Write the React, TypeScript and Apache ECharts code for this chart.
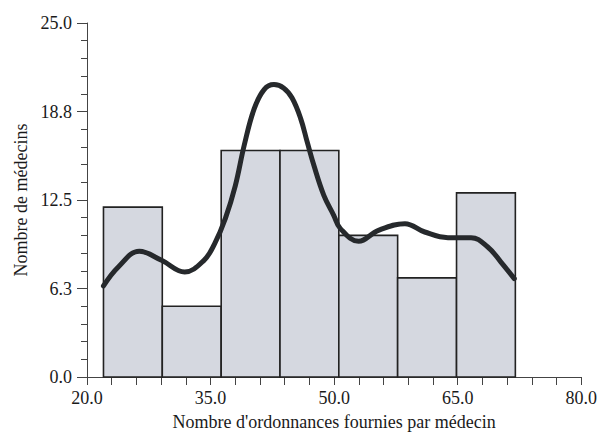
import React, { useEffect, useRef } from "react";
import * as echarts from "echarts";

const binEdges = [22, 29.14, 36.29, 43.43, 50.57, 57.71, 64.86, 72];
const counts = [12, 5, 16, 16, 10, 7, 13];

const curveX = [22.0, 23.8, 26.35, 29.05, 31.86, 34.2, 35.5, 36.8, 38.0, 39.1, 40.3, 41.5, 42.7, 43.9, 44.9, 45.94, 46.73, 47.54, 48.75, 49.95, 50.76, 52.97, 55.38, 58.6, 61.0, 63.82, 66.63, 68.65, 70.25, 71.87];
const curveY = [6.43, 7.77, 8.88, 8.24, 7.42, 8.24, 9.42, 11.2, 13.5, 16.4, 18.95, 20.3, 20.65, 20.4, 19.7, 18.25, 16.6, 14.95, 12.83, 11.42, 10.48, 9.58, 10.36, 10.83, 10.24, 9.84, 9.84, 9.18, 8.12, 6.95];

const yTicks = [0, 6.25, 12.5, 18.75, 25];
const xTicks = [20, 35, 50, 65, 80];

export default function App() {
  const ref = useRef<HTMLDivElement>(null);
  useEffect(() => {
    const chart = echarts.init(ref.current!, null, { renderer: "svg" });
    const font = "'Liberation Serif', 'Times New Roman', serif";
    const axisColor = "#444";
    const textColor = "#1a1a1a";
    const bars = counts.map((c, i) => [binEdges[i], binEdges[i + 1], c]);
    chart.setOption({
      animation: false,
      backgroundColor: "#fff",
      grid: { left: 87, right: 16, top: 23, bottom: 59 },
      xAxis: {
        type: "value",
        min: 20,
        max: 80,
        interval: 15,
        name: "Nombre d'ordonnances fournies par médecin",
        nameLocation: "middle",
        nameGap: 36,
        nameTextStyle: { fontFamily: font, fontSize: 18, color: textColor },
        axisLine: { show: true, lineStyle: { color: axisColor, width: 1 } },
        axisTick: { show: true, length: 8, lineStyle: { color: axisColor } },
        minorTick: { show: true, splitNumber: 5, length: 8, lineStyle: { color: axisColor } },
        splitLine: { show: false },
        axisLabel: {
          fontFamily: font,
          fontSize: 18,
          color: textColor,
          margin: 12,
          formatter: (v: number) => (xTicks.includes(v) ? v.toFixed(1) : ""),
        },
      },
      yAxis: {
        type: "value",
        min: 0,
        max: 25,
        interval: 6.25,
        name: "Nombre de médecins",
        nameLocation: "middle",
        nameGap: 51,
        nameTextStyle: { fontFamily: font, fontSize: 18, color: textColor },
        axisLine: { show: true, lineStyle: { color: axisColor, width: 1 } },
        axisTick: { show: true, length: 10, lineStyle: { color: axisColor } },
        minorTick: { show: true, splitNumber: 5, length: 6, lineStyle: { color: axisColor } },
        splitLine: { show: false },
        axisLabel: {
          fontFamily: font,
          fontSize: 18,
          color: textColor,
          margin: 15,
          formatter: (v: number) => (yTicks.includes(v) ? v.toFixed(1) : ""),
        },
      },
      series: [
        {
          type: "custom",
          data: bars,
          z: 1,
          renderItem: (params: any, api: any) => {
            const x0 = api.value(0);
            const x1 = api.value(1);
            const h = api.value(2);
            const p0 = api.coord([x0, h]);
            const p1 = api.coord([x1, 0]);
            return {
              type: "rect",
              shape: { x: p0[0], y: p0[1], width: p1[0] - p0[0], height: p1[1] - p0[1] },
              style: { fill: "#d5d8e0", stroke: "#222", lineWidth: 1.6 },
            };
          },
        },
        {
          type: "line",
          data: curveX.map((x, i) => [x, curveY[i]]),
          smooth: 0.4,
          showSymbol: false,
          symbol: "none",
          z: 3,
          lineStyle: { color: "#26292c", width: 5, cap: "round", join: "round" },
        },
      ],
    });
    return () => chart.dispose();
  }, []);
  return <div ref={ref} style={{ position: "absolute", left: 0, top: 0, width: 600, height: 436 }} />;
}
